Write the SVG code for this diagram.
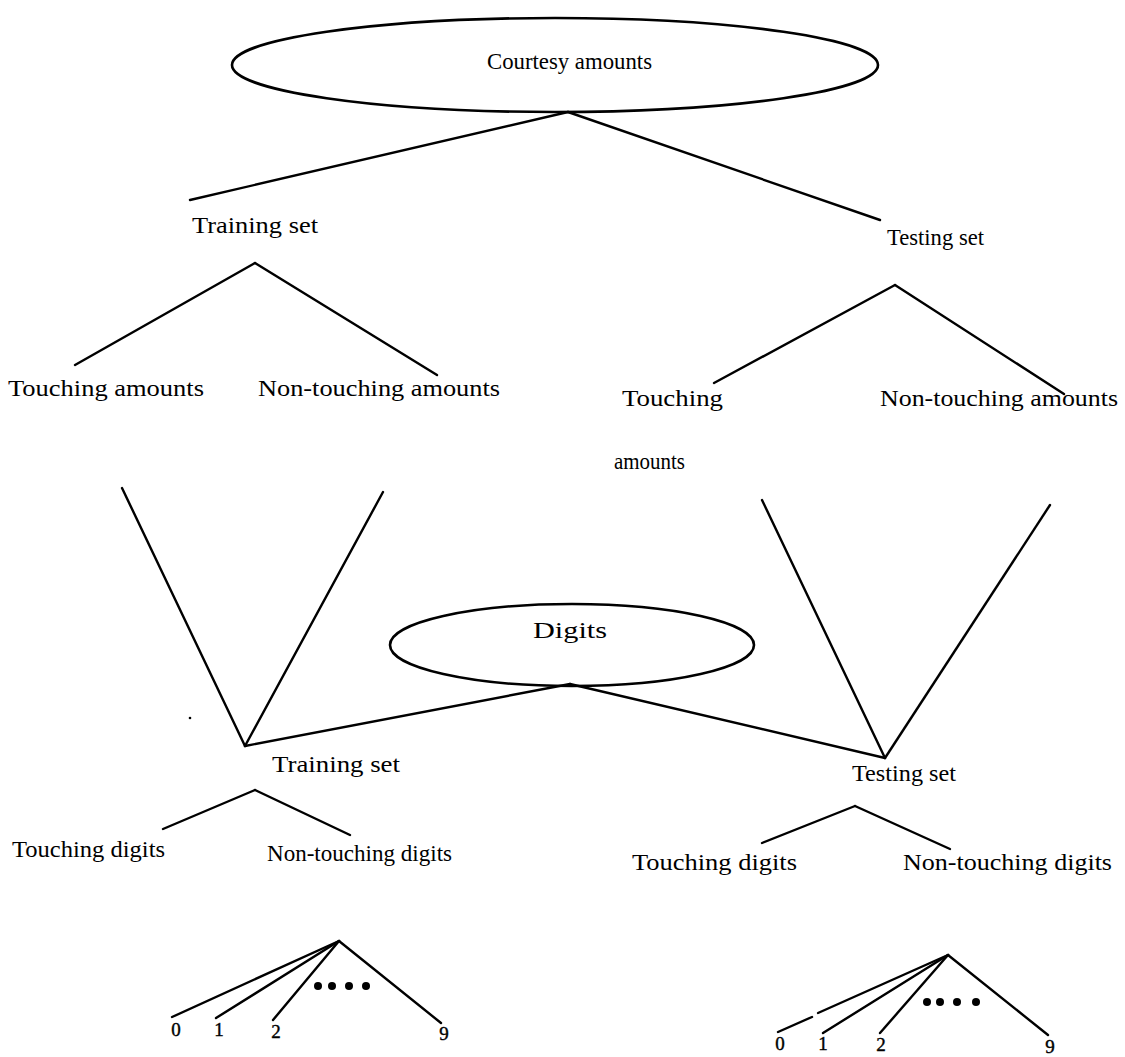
<svg xmlns="http://www.w3.org/2000/svg" width="1125" height="1057" viewBox="0 0 1125 1057">
  <style>
    .lbl { font-family: "Liberation Serif", "Times New Roman", serif; font-size: 24px; fill: #000; }
    .sm { font-size: 23px; }
    .num { font-family: "Liberation Serif", "Times New Roman", serif; font-size: 19px; fill: #000; stroke: #000; stroke-width: 0.4; }
    .edge { stroke: #000; stroke-width: 2.4; fill: none; stroke-linecap: round; }
    .oval { stroke: #000; stroke-width: 2.6; fill: none; }
  </style>
  <rect width="1125" height="1057" fill="#fff"/>

  <!-- connectors -->
  <g id="connectors">
    <!-- Courtesy amounts split -->
    <line class="edge" x1="568" y1="112" x2="190" y2="200"/>
    <line class="edge" x1="568" y1="112" x2="880" y2="220"/>
    <!-- amounts: training set -->
    <line class="edge" x1="255" y1="263" x2="75" y2="365"/>
    <line class="edge" x1="255" y1="263" x2="437" y2="375"/>
    <!-- amounts: testing set -->
    <line class="edge" x1="895" y1="285" x2="714" y2="383"/>
    <line class="edge" x1="895" y1="285" x2="1064" y2="394"/>
    <!-- amounts feeding the digit training set -->
    <line class="edge" x1="122" y1="488" x2="245" y2="746"/>
    <line class="edge" x1="383" y1="492" x2="245" y2="746"/>
    <!-- amounts feeding the digit testing set -->
    <line class="edge" x1="762" y1="500" x2="885" y2="758"/>
    <line class="edge" x1="1050" y1="505" x2="885" y2="758"/>
    <!-- Digits split -->
    <line class="edge" x1="570" y1="684" x2="245" y2="746"/>
    <line class="edge" x1="570" y1="684" x2="885" y2="758"/>
    <!-- digits: training set -->
    <line class="edge" x1="255" y1="790" x2="163" y2="829"/>
    <line class="edge" x1="255" y1="790" x2="350" y2="835"/>
    <!-- digits: testing set -->
    <line class="edge" x1="855" y1="806" x2="762" y2="843"/>
    <line class="edge" x1="855" y1="806" x2="950" y2="849"/>
    <!-- class fan, left -->
    <line class="edge" x1="339" y1="941" x2="172" y2="1017"/>
    <line class="edge" x1="339" y1="941" x2="216" y2="1018"/>
    <line class="edge" x1="339" y1="941" x2="273" y2="1020"/>
    <line class="edge" x1="339" y1="941" x2="441" y2="1023"/>
    <!-- class fan, right -->
    <line class="edge" x1="778" y1="1032" x2="812" y2="1017"/>
    <line class="edge" x1="818" y1="1013" x2="948" y2="955"/>
    <line class="edge" x1="948" y1="955" x2="823" y2="1033"/>
    <line class="edge" x1="948" y1="955" x2="880" y2="1033"/>
    <line class="edge" x1="948" y1="955" x2="1048" y2="1035"/>
  </g>

  <!-- root: courtesy amounts -->
  <g id="courtesy-amounts">
    <ellipse class="oval" cx="555" cy="65" rx="323" ry="47"/>
    <text class="lbl" x="487" y="69" textLength="165" lengthAdjust="spacingAndGlyphs">Courtesy amounts</text>
  </g>

  <g id="amt-training-set">
    <text class="lbl" x="192" y="233" textLength="126" lengthAdjust="spacingAndGlyphs">Training set</text>
  </g>
  <g id="amt-testing-set">
    <text class="lbl sm" x="887" y="245" textLength="97" lengthAdjust="spacingAndGlyphs">Testing set</text>
  </g>
  <g id="amt-train-touching">
    <text class="lbl" x="8" y="396" textLength="196" lengthAdjust="spacingAndGlyphs">Touching amounts</text>
  </g>
  <g id="amt-train-nontouching">
    <text class="lbl" x="258" y="396" textLength="242" lengthAdjust="spacingAndGlyphs">Non-touching amounts</text>
  </g>
  <g id="amt-test-touching">
    <text class="lbl" x="622" y="406" textLength="101" lengthAdjust="spacingAndGlyphs">Touching</text>
    <text class="lbl sm" x="614" y="469" textLength="71" lengthAdjust="spacingAndGlyphs">amounts</text>
  </g>
  <g id="amt-test-nontouching">
    <text class="lbl" x="880" y="406" textLength="238" lengthAdjust="spacingAndGlyphs">Non-touching amounts</text>
  </g>

  <!-- root: digits -->
  <g id="digits">
    <ellipse class="oval" cx="572" cy="645" rx="182" ry="41"/>
    <text class="lbl" x="533" y="638" textLength="74" lengthAdjust="spacingAndGlyphs">Digits</text>
  </g>

  <g id="dig-training-set">
    <text class="lbl" x="272" y="772" textLength="128" lengthAdjust="spacingAndGlyphs">Training set</text>
  </g>
  <g id="dig-testing-set">
    <text class="lbl sm" x="852" y="781" textLength="104" lengthAdjust="spacingAndGlyphs">Testing set</text>
  </g>
  <g id="dig-train-touching">
    <text class="lbl" x="12" y="857" textLength="153" lengthAdjust="spacingAndGlyphs">Touching digits</text>
  </g>
  <g id="dig-train-nontouching">
    <text class="lbl" x="267" y="861" textLength="185" lengthAdjust="spacingAndGlyphs">Non-touching digits</text>
  </g>
  <g id="dig-test-touching">
    <text class="lbl" x="632" y="870" textLength="165" lengthAdjust="spacingAndGlyphs">Touching digits</text>
  </g>
  <g id="dig-test-nontouching">
    <text class="lbl" x="903" y="870" textLength="209" lengthAdjust="spacingAndGlyphs">Non-touching digits</text>
  </g>

  <!-- digit classes, training -->
  <g id="train-classes">
    <circle cx="318" cy="986" r="4"/>
    <circle cx="332" cy="986" r="4"/>
    <circle cx="349" cy="986" r="4"/>
    <circle cx="366" cy="986" r="4"/>
    <text class="num" x="176" y="1036" text-anchor="middle">0</text>
    <text class="num" x="219" y="1036" text-anchor="middle">1</text>
    <text class="num" x="276" y="1038" text-anchor="middle">2</text>
    <text class="num" x="444" y="1040" text-anchor="middle">9</text>
  </g>

  <!-- digit classes, testing -->
  <g id="test-classes">
    <circle cx="927" cy="1002" r="4"/>
    <circle cx="940" cy="1002" r="4"/>
    <circle cx="957" cy="1002" r="4"/>
    <circle cx="976" cy="1002" r="4"/>
    <text class="num" x="780" y="1050" text-anchor="middle">0</text>
    <text class="num" x="823" y="1050" text-anchor="middle">1</text>
    <text class="num" x="881" y="1051" text-anchor="middle">2</text>
    <text class="num" x="1050" y="1053" text-anchor="middle">9</text>
  </g>

  <circle cx="190" cy="718" r="1.3"/>
</svg>
